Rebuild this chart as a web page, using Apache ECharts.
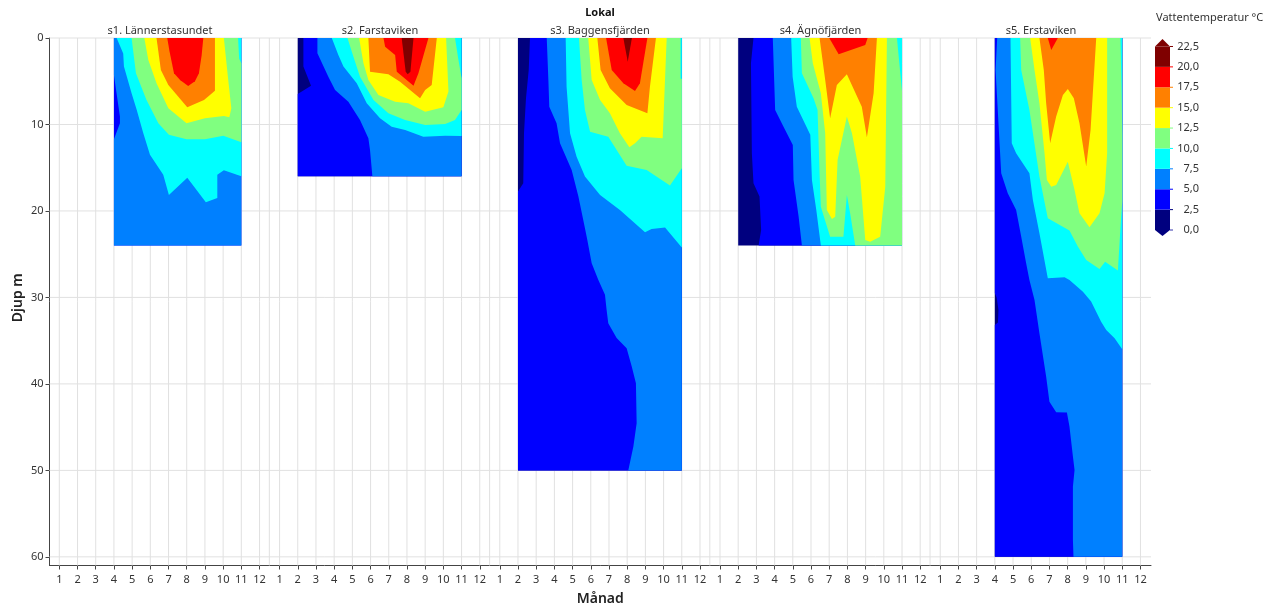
<!DOCTYPE html>
<html><head><meta charset="utf-8">
<script src="https://cdn.jsdelivr.net/npm/echarts@6/dist/echarts.min.js"></script>
<style>html,body{margin:0;padding:0;background:#fff}#c{width:1277px;height:610px}</style>
</head><body><div id="c"></div>
<script>
// ---- data ----
const panelNames=['s1. Lännerstasundet','s2. Farstaviken','s3. Baggensfjärden','s4. Ägnöfjärden','s5. Erstaviken'];
const panelMonths=[[4,11],[2,11],[2,11],[2,11],[4,11]];
const panelDepths=[24,16,50,24,60];
const panelBase=[1,0,0,0,0];
const monthLabels=[1,2,3,4,5,6,7,8,9,10,11,12];
const depthTicks=[0,10,20,30,40,50,60];
const legendLevels=[0,2.5,5,7.5,10,12.5,15,17.5,20,22.5];
const bandColors=['#00007f','#0000ff','#0080ff','#00ffff','#80ff80','#ffff00','#ff8000','#ff0000','#7f0000'];

// Isotherms as [month, depth]; each ring encloses water at or above the level.
const s1=[
 [2,[[4,0],[11,0],[11,24],[4,24],[4,11.7],[4.33,9.87],[4.33,9.09],[4.09,5.6],[4,4.28]]],
 [3,[[4.15,0],[4.51,1.8],[4.55,3.3],[4.97,6.4],[5.25,8.3],[5.61,11],[5.98,13.5],[6.71,15.8],[7.02,18.15],[8.03,16.15],[9.05,19],[9.68,18.5],[9.68,15.8],[10.04,15.3],[11,16],[11,0]]],
 [4,[[4.97,0],[5.21,4.08],[5.79,7.17],[6.44,9.87],[7.02,11.2],[7.99,11.7],[9,11.7],[10.01,11.3],[11,12.06],[11,2.93],[10.88,2.4],[10.82,0]]],
 [5,[[5.67,0],[5.89,2.54],[6.34,5.24],[6.99,8.13],[7.99,9.87],[9,9.29],[10.04,9.02],[10.34,9.17],[10.45,8.13],[10.28,4.86],[10.04,0]]],
 [6,[[6.34,0],[6.58,3.7],[6.99,5.43],[8.03,8],[8.95,7.17],[9.55,6.09],[9.55,0]]],
 [7,[[6.93,0],[7.05,1.5],[7.3,4.08],[7.65,4.9],[8.08,5.55],[8.45,5],[8.67,4.08],[8.82,2],[8.91,0]]]
];
const s2=[
 [1,[[2.31,0],[2.31,3.31],[2.73,5.51],[2,6.47],[2,16],[11,16],[11,0]]],
 [2,[[3.08,0],[3.08,1.77],[3.68,4.47],[4.05,6.01],[4.78,7.36],[5.42,9.48],[5.88,11.6],[5.97,12.95],[6.1,16],[11,16],[11,0]]],
 [3,[[3.87,0],[4.23,1.97],[4.51,3.31],[5.24,5.24],[5.79,7.55],[6.52,9.29],[7.16,10.25],[7.9,10.64],[8.9,11.41],[10.1,11.29],[11,11.33],[11,0]]],
 [4,[[4.73,0],[5.06,2.16],[5.42,4.47],[6.16,7.17],[6.98,8.71],[7.9,9.48],[9,10.06],[10.1,9.94],[10.64,9.48],[11,8.32],[11,4.66],[10.8,2.16],[10.64,0]]],
 [5,[[5.37,0],[5.61,2.93],[5.88,4.86],[6.43,6.59],[7.35,7.36],[8.08,7.55],[9,8.52],[10,8.02],[10.28,6.2],[10.15,0]]],
 [6,[[5.88,0],[5.97,3.89],[6.98,4.2],[7.62,5.05],[8.72,6.97],[9,6.01],[9.36,5.43],[9.64,0]]],
 [7,[[6.71,0],[6.8,1],[7.35,1.97],[7.44,3.89],[8.36,5.51],[8.63,4.08],[9.18,0]]],
 [8,[[7.71,0],[7.93,3.89],[8.04,4.2],[8.19,3.89],[8.36,0]]]
];
const s3=[
 [1,[[2.66,0],[2.59,3.7],[2.44,6.97],[2.33,11.02],[2.29,16.8],[2,17.76],[2,50],[11,50],[11,0]]],
 [2,[[3.58,0],[3.67,4.86],[3.72,7.94],[4.12,9.87],[4.31,12.18],[4.95,15.26],[5.32,18.34],[5.68,22],[5.81,23.35],[6.05,26.05],[6.41,27.97],[6.78,29.7],[6.87,31.44],[6.96,32.98],[7.42,34.7],[7.97,35.87],[8.25,37.99],[8.48,39.92],[8.52,44.54],[8.34,47.24],[8.06,50],[11,50],[11,0]]],
 [3,[[4.62,0],[4.67,5.63],[4.86,11.02],[5.22,13.72],[5.68,16.03],[6.51,18.15],[7.6,19.88],[8.98,22.47],[9.34,22.08],[10.08,21.9],[11,24.24],[11,0]]],
 [4,[[5.35,0],[5.5,4.86],[5.68,8.32],[5.96,10.83],[6.96,11.41],[7.97,14.76],[9.07,15.26],[10.35,17.07],[11,15.07],[11,4.7],[10.93,4.7],[10.93,0]]],
 [5,[[5.86,0],[6.05,4.86],[6.51,7.17],[7.05,8.71],[7.6,11.02],[8.12,12.64],[8.43,12.18],[8.79,11.41],[9.95,11.6],[10.17,0]]],
 [6,[[6.36,0],[6.54,3.7],[7.05,5.82],[7.97,7.75],[9.11,8.71],[9.25,5.63],[9.58,0]]],
 [7,[[6.84,0],[7.15,3.7],[7.79,5.24],[8.43,6.13],[8.7,5.24],[9.11,0]]],
 [8,[[7.79,0],[8.03,2.74],[8.26,0]]]
];
const s4=[
 [1,[[2.84,0],[2.7,2.93],[2.75,13.33],[2.84,16.8],[3.17,18.34],[3.26,22.2],[3.12,24],[11,24],[11,0]]],
 [2,[[3.9,0],[4.03,8.32],[4.49,10.25],[5,12.37],[5.04,16.42],[5.32,20.66],[5.5,24],[11,24],[11,0]]],
 [3,[[4.91,0],[4.99,4.47],[5.22,7.94],[5.96,11.2],[6.05,16.42],[6.29,19.88],[6.54,24],[11,24],[11,0]]],
 [4,[[5.44,0],[5.5,4.08],[6.14,6.97],[6.36,8.32],[6.47,15.65],[6.54,19.5],[7.05,22.97],[7.78,22.97],[7.97,18.15],[8.15,20.27],[8.43,24],[11,24],[11,6.2],[10.72,0]]],
 [5,[[5.92,0],[6.1,2.93],[6.54,6.4],[6.78,11.02],[6.87,19.88],[7.15,20.92],[7.33,20.66],[7.46,14.1],[7.97,9.09],[8.25,11.02],[8.7,16.03],[8.98,23.35],[9.25,23.55],[9.8,22.97],[10.08,17.19],[10.17,0]]],
 [6,[[6.47,0],[6.78,4.86],[7.05,9.29],[7.42,5.43],[7.97,4.2],[8.79,7.94],[9.07,11.48],[9.44,6.4],[9.62,0]]],
 [7,[[7,0],[7.52,1.89],[8.98,0.81],[9.11,0]]]
];
const s5=[
 [1,[[4,0],[11,0],[11,60],[4,60],[4,33.18],[4.17,32.9],[4.2,31.45],[4.1,30],[4,29.52]]],
 [2,[[4.13,0],[4.04,3.7],[4.35,15.65],[4.71,17.96],[5.17,19.88],[5.45,22.97],[5.72,26.05],[5.9,27.98],[6.18,30.29],[6.45,34.15],[6.82,39.16],[7,42.05],[7.37,43.28],[7.96,43.32],[8.1,44.94],[8.29,48.4],[8.38,49.95],[8.29,51.87],[8.29,58.04],[8.32,60],[11,60],[11,0]]],
 [3,[[4.86,0],[4.93,12.18],[5.17,13.33],[5.9,15.65],[6.09,18.73],[6.45,22.58],[6.91,27.78],[7.83,27.67],[8.1,27.98],[8.84,29.33],[9.29,30.48],[9.84,32.8],[10.12,33.76],[10.58,34.72],[11,36],[11,0]]],
 [4,[[5.39,0],[5.45,3.7],[5.9,8.32],[6.45,16.03],[6.91,20.85],[8.1,22.27],[8.56,24.12],[9.02,25.66],[9.75,26.7],[10.06,25.86],[10.76,26.9],[10.94,20.66],[11,18.92],[11,11.2],[10.96,5.63],[10.9,0]]],
 [5,[[5.94,0],[6.18,3.7],[6.45,7.55],[6.73,13.33],[6.86,16.42],[7.1,17.19],[7.37,16.99],[8.01,14.3],[8.38,17.57],[8.65,20.27],[9.2,21.89],[9.75,20.27],[10.03,17.96],[10.17,13.33],[10.17,0]]],
 [6,[[6.45,0],[6.69,3.7],[6.82,7.55],[7.04,12.18],[7.37,9.09],[7.74,6.59],[8.01,5.9],[8.34,6.97],[8.65,9.87],[9.02,14.87],[9.26,10.64],[9.57,0]]],
 [7,[[6.91,0],[7.1,1.39],[7.46,0]]]
];
const panelIsotherms=[s1,s2,s3,s4,s5];

// ---- helpers ----
const PANEL_STEP=12.1;
const pos=(p,m)=>p*PANEL_STEP+m;
const xTicks=[],xTickText=[];
panelNames.forEach((n,p)=>monthLabels.forEach(m=>{xTicks.push(pos(p,m));xTickText.push(String(m));}));
const separators=[0,1,2,3].map(p=>pos(p,12.54));

const polys=[];
panelIsotherms.forEach((list,p)=>{
  const [a,b]=panelMonths[p],d=panelDepths[p];
  polys.push({c:panelBase[p],pts:[[pos(p,a),0],[pos(p,b),0],[pos(p,b),d],[pos(p,a),d]]});
  list.forEach(([c,ring])=>polys.push({c,pts:ring.map(([m,z])=>[pos(p,m),z])}));
});

const FONT='"Noto Sans",sans-serif', TXT='#333';
const panelCentres=[160,380,600,820.5,1041];
const titles=[{text:'Lokal',left:600,top:7,padding:0,textAlign:'center',textStyle:{fontFamily:FONT,fontSize:11,fontWeight:'bold',color:'#111'}},
 {text:'Vattentemperatur °C',left:1156,top:12,padding:0,textStyle:{fontFamily:FONT,fontSize:11,fontWeight:'normal',color:TXT}}];
panelNames.forEach((n,i)=>titles.push({text:n,left:panelCentres[i],top:25,padding:0,textAlign:'center',textStyle:{fontFamily:FONT,fontSize:11,fontWeight:'normal',color:TXT}}));

const gridItems=[...depthTicks.map(d=>({h:d})),...xTicks.map(v=>({v})),...separators.map(v=>({v}))];

const option={
 animation:false,backgroundColor:'#fff',title:titles,
 grid:[{left:49.5,top:38,width:1101.5,height:527.5,outerBoundsMode:'none'},{left:1155,top:26.1,width:15,height:224.3,outerBoundsMode:'none'}],
 xAxis:[{type:'value',gridIndex:0,min:0.46,max:60.98,splitLine:{show:false},
   name:'Månad',nameLocation:'middle',nameGap:27,nameTextStyle:{fontFamily:FONT,fontSize:14,fontWeight:600,color:'#222'},
   axisLine:{show:true,lineStyle:{color:'#444'},onZero:false},
   axisTick:{show:true,length:4,lineStyle:{color:'#444'},customValues:xTicks},
   axisLabel:{show:true,margin:9,fontFamily:FONT,fontSize:11,color:TXT,customValues:xTicks,
     formatter:v=>{const i=xTicks.findIndex(t=>Math.abs(t-v)<1e-6);return i<0?'':xTickText[i];}}},
  {type:'value',gridIndex:1,min:0,max:1,show:false}],
 yAxis:[{type:'value',gridIndex:0,inverse:true,min:0,max:61,splitLine:{show:false},
   name:'Djup m',nameLocation:'middle',nameGap:24,nameMoveOverlap:false,nameTextStyle:{fontFamily:FONT,fontSize:14,fontWeight:600,color:'#222',padding:[0,0,0,8]},
   axisLine:{show:true,lineStyle:{color:'#444'},onZero:false},
   axisTick:{show:true,length:4,lineStyle:{color:'#444'},customValues:depthTicks},
   axisLabel:{show:true,margin:6,fontFamily:FONT,fontSize:11,color:TXT,customValues:depthTicks}},
  {type:'value',gridIndex:1,position:'right',min:-2.5,max:25,interval:2.5,splitLine:{show:false},
   axisLine:{show:false},axisTick:{show:false},
   axisLabel:{show:true,align:'right',margin:29,fontFamily:FONT,fontSize:11,color:TXT,
     formatter:v=>(v<0||v>22.5)?'':v.toFixed(1).replace('.',',')}}],
 series:[
  {type:'custom',xAxisIndex:0,yAxisIndex:0,silent:true,z:1,coordinateSystem:'cartesian2d',
   data:gridItems.map((g,i)=>[i]),encode:{x:0},
   renderItem:(p,api)=>{const g=gridItems[p.dataIndex];
     const a=g.h!==undefined?api.coord([0.46,g.h]):api.coord([g.v,0]);
     const b=g.h!==undefined?api.coord([60.98,g.h]):api.coord([g.v,61]);
     return {type:'line',shape:{x1:a[0],y1:a[1],x2:b[0],y2:b[1]},style:{stroke:'#e1e1e1',lineWidth:1}};}},
  {type:'custom',xAxisIndex:0,yAxisIndex:0,silent:true,z:2,coordinateSystem:'cartesian2d',
   data:polys.map((g,i)=>[i]),encode:{x:0},
   renderItem:(p,api)=>{const g=polys[p.dataIndex];
     return {type:'polygon',shape:{points:g.pts.map(q=>api.coord(q))},style:{fill:bandColors[g.c]}};}},
  {type:'custom',xAxisIndex:1,yAxisIndex:1,silent:true,z:2,coordinateSystem:'cartesian2d',
   data:legendLevels.map((l,i)=>[i]),encode:{x:0},
   renderItem:(p,api)=>{const i=p.dataIndex,l=legendLevels[i];
     const tickCol=i===0?'#3333aa':bandColors[i-1];
     const children=[];
     const t0=api.coord([1,l]),t1=api.coord([1.2,l]);
     if(i<bandColors.length){
       const u=legendLevels[i+1];
       children.push({type:'polygon',shape:{points:[[0,l],[1,l],[1,u],[0,u]].map(q=>api.coord(q))},style:{fill:bandColors[i]}});
       if(i===0)children.push({type:'polygon',shape:{points:[[0,0],[1,0],[0.5,-0.74]].map(q=>api.coord(q))},style:{fill:bandColors[0]}});
     } else {
       children.push({type:'polygon',shape:{points:[[0,l],[1,l],[0.5,l+0.92]].map(q=>api.coord(q))},style:{fill:bandColors[8]}});
     }
     children.push({type:'line',shape:{x1:t0[0],y1:t0[1],x2:t1[0],y2:t1[1]},style:{stroke:tickCol,lineWidth:1}});
     return {type:'group',children};}}
 ]
};
echarts.init(document.getElementById('c'),null,{renderer:'canvas'}).setOption(option);
</script></body></html>
